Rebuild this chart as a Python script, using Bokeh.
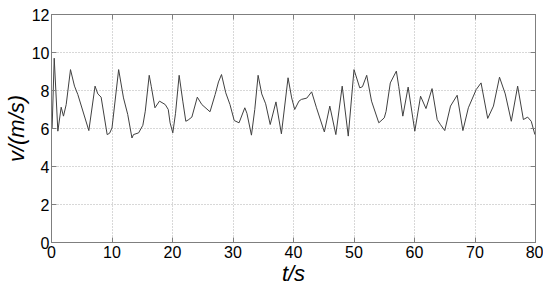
from bokeh.plotting import figure
from bokeh.models import LinearAxis, FixedTicker, CustomJSTickFormatter
from bokeh.embed import file_html
from bokeh.resources import INLINE

t = [0.1, 0.45, 1.05, 1.6, 1.98, 2.43, 3.14, 3.8, 4.35, 6.17, 7.2, 7.66, 8.2, 9.2, 9.6,
     10.0, 11.1, 11.9, 12.6, 13.3, 13.55, 14.4, 15.1, 15.5, 16.15, 16.5, 17.1, 17.85,
     18.8, 19.3, 19.6, 20.05, 20.5, 21.1, 21.7, 22.2, 22.6, 23.2, 24.1, 24.85, 26.2,
     27.05, 27.6, 28.1, 28.8, 29.5, 30.2, 31.0, 31.95, 32.3, 33.05, 33.6, 34.15, 34.75,
     35.4, 36.15, 37.1, 38.0, 39.1, 39.7, 40.2, 40.9, 41.3, 42.2, 43.0, 43.8, 45.1,
     46.0, 47.0, 48.05, 49.05, 50.0, 50.95, 51.4, 52.1, 52.9, 54.1, 55.0, 55.3, 56.0,
     57.0, 57.4, 58.07, 58.95, 60.05, 61.0, 61.9, 62.9, 63.75, 64.3, 65.0, 65.95, 67.05,
     68.0, 68.9, 70.2, 71.0, 72.1, 73.05, 74.05, 75.0, 76.0, 77.05, 78.0, 78.7, 79.3,
     79.9]
v = [6.0, 9.7, 5.86, 7.12, 6.65, 7.26, 9.1, 8.23, 7.79, 5.89, 8.23, 7.82, 7.65, 5.68, 5.75,
     6.03, 9.1, 7.61, 6.74, 5.5, 5.68, 5.77, 6.17, 6.91, 8.8, 8.2, 7.09, 7.44,
     7.26, 7.0, 6.3, 5.77, 6.8, 8.8, 7.44, 6.38, 6.45, 6.6, 7.65, 7.26, 6.88,
     7.79, 8.45, 8.84, 7.88, 7.26, 6.42, 6.3, 7.09, 6.8, 5.65, 7.0, 8.8, 7.82,
     7.3, 6.21, 7.4, 5.72, 8.67, 7.61, 7.0, 7.44, 7.53, 7.6, 7.93, 7.09, 5.82,
     7.18, 5.68, 8.23, 5.6, 9.1, 8.14, 8.2, 8.8, 7.44, 6.3, 6.56, 6.9, 8.4,
     9.02, 8.2, 6.65, 8.18, 5.86, 7.7, 7.05, 8.1, 6.47, 6.2, 5.89, 7.18, 7.75,
     5.89, 7.09, 8.05, 8.4, 6.53, 7.18, 8.7, 7.82, 6.38, 8.23, 6.47, 6.6, 6.38,
     5.68]

x_ticks = [0, 10, 20, 30, 40, 50, 60, 70, 80]
y_ticks = [0, 2, 4, 6, 8, 10, 12]

AX = "#7f7f7f"
FONT = "Liberation Sans"

p = figure(frame_width=484, frame_height=228, x_range=(0, 80), y_range=(0, 12),
           output_backend="svg", toolbar_location=None,
           min_border_left=40, min_border_top=14, min_border_right=8, min_border_bottom=40)
p.outline_line_color = AX
p.outline_line_width = 1

p.line(t, v, line_color="#404040", line_width=1)

def style(ax, labels=True):
    ax.axis_line_color = AX
    ax.major_tick_line_color = AX
    ax.major_tick_in = 5
    ax.major_tick_out = 0
    ax.minor_tick_line_color = None
    ax.major_label_text_font = FONT
    ax.major_label_text_font_size = "16px"
    ax.major_label_text_color = "#000000"
    ax.major_label_standoff = 2
    if not labels:
        ax.formatter = CustomJSTickFormatter(code="return ''")
        ax.major_label_standoff = 0

xa = p.xaxis[0]
ya = p.yaxis[0]
xa.ticker = FixedTicker(ticks=x_ticks)
ya.ticker = FixedTicker(ticks=y_ticks)
style(xa)
style(ya)
xa.major_label_standoff = 3
xa.axis_label = "t/s"
ya.axis_label = "v/(m/s)"
for ax in (xa, ya):
    ax.axis_label_text_font = FONT
    ax.axis_label_text_font_style = "italic"
    ax.axis_label_text_color = "#000000"
xa.axis_label_text_font_size = "22px"
ya.axis_label_text_font_size = "22px"
xa.axis_label_standoff = 0
ya.axis_label_standoff = 0

top = LinearAxis(ticker=FixedTicker(ticks=x_ticks))
right = LinearAxis(ticker=FixedTicker(ticks=y_ticks))
style(top, False)
style(right, False)
p.add_layout(top, "above")
p.add_layout(right, "right")

p.xgrid.ticker = FixedTicker(ticks=x_ticks)
p.ygrid.ticker = FixedTicker(ticks=y_ticks)
for g in (p.xgrid[0], p.ygrid[0]):
    g.grid_line_color = "#b0b0b0"
    g.grid_line_dash = "1 2"
    g.grid_line_width = 1

open("out.html", "w").write(file_html(p, INLINE))
